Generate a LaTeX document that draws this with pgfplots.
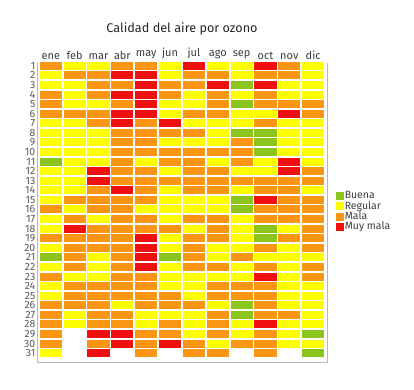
\documentclass[border=0pt]{standalone}
\usepackage{fontspec}
\setmainfont{Fira Sans}
\usepackage{pgfplots}
\usepackage{pgfplotstable}
\pgfplotsset{compat=1.18}
\definecolor{cbuena}{RGB}{140,196,30}
\definecolor{cregular}{RGB}{255,255,0}
\definecolor{cmala}{RGB}{250,150,20}
\definecolor{cmuymala}{RGB}{240,15,15}
\definecolor{ctxt}{RGB}{60,60,60}
\pgfdeclareplotmark{celda}{\pgfpathrectangle{\pgfpoint{-11.1bp}{-4.0bp}}{\pgfpoint{22.2bp}{8.0bp}}\pgfusepathqfill}
% 0 = sin dato, 1 = Buena, 2 = Regular, 3 = Mala, 4 = Muy mala
\pgfplotstableread{
d m0 m1 m2 m3 m4 m5 m6 m7 m8 m9 m10 m11
1 3 2 2 3 3 2 4 2 2 4 3 2
2 2 3 3 4 4 2 3 3 2 3 3 2
3 2 2 3 3 4 3 3 4 1 4 2 2
4 3 2 3 4 4 3 2 3 2 3 2 2
5 3 2 2 3 4 2 2 3 1 3 3 3
6 3 3 3 4 4 2 3 3 2 2 4 3
7 2 2 3 4 3 4 2 2 2 3 2 2
8 2 2 2 3 3 3 3 2 1 1 2 2
9 2 2 2 3 3 2 2 2 3 1 2 2
10 2 2 2 3 3 3 3 3 3 1 2 2
11 1 2 2 3 2 3 3 2 3 2 4 2
12 2 2 4 3 3 2 3 3 2 2 4 3
13 2 2 4 3 3 3 3 3 3 3 3 3
14 2 2 3 4 3 2 3 3 2 3 3 2
15 2 3 3 3 3 2 2 2 1 4 3 3
16 3 2 3 3 2 2 2 2 1 3 3 3
17 2 3 2 3 3 2 3 3 2 3 3 3
18 2 4 3 3 3 3 2 3 2 1 2 3
19 3 3 3 3 4 2 3 3 2 1 3 3
20 2 3 3 3 4 2 3 2 2 3 2 3
21 1 3 2 3 4 1 3 2 3 2 2 2
22 2 3 2 3 4 2 3 3 2 3 2 3
23 3 2 2 3 3 2 2 2 2 4 2 3
24 2 3 3 3 3 2 2 3 3 3 2 2
25 2 3 3 3 3 3 2 3 3 3 2 2
26 3 3 3 2 3 3 3 2 1 3 2 2
27 3 2 3 3 2 2 2 3 1 3 3 2
28 3 2 3 3 2 3 2 3 2 4 2 2
29 3 0 4 4 3 3 2 3 2 3 2 1
30 3 0 3 4 3 4 3 2 3 3 2 2
31 2 0 4 0 3 0 3 3 0 3 0 1
}\datos
\begin{document}
\begin{tikzpicture}[x=1bp,y=1bp]
\useasboundingbox (0,0) rectangle (414,390);
\node[font=\fontsize{12.7}{15}\selectfont, text=black!85] at (182,361) {Calidad del aire por ozono};
\begin{axis}[
  at={(37bp,28bp)}, anchor=south west,
  scale only axis, width=290bp, height=301bp,
  xmin=-0.58, xmax=11.58, ymin=0.5, ymax=31.92, y dir=reverse,
  axis line style={draw=none},
  xtick={0,...,11},
  xticklabels={ene,feb,mar,abr,may,jun,jul,ago,sep,oct,nov,dic},
  xticklabel pos=upper,
  ytick={1,...,31},
  major tick length=0pt,
  xtick style={draw=none}, ytick style={draw=none},
  /pgf/number format/assume math mode=true,
  xticklabel style={font=\fontsize{11}{13}\selectfont, text=ctxt, inner sep=1.5bp},
  yticklabel style={font=\fontsize{10.5}{12}\selectfont, text=ctxt!85, inner sep=1.5bp},
  legend style={at={(axis description cs:1.03,0.5)}, anchor=west, draw=none, fill=none,
    font=\fontsize{10.5}{12}\selectfont, text=ctxt, row sep=-2bp, inner sep=0pt,
    nodes={inner sep=1.5bp}},
  legend cell align=left,
  clip=false,
]
\pgfplotsinvokeforeach{0,...,11}{
  \addplot[forget plot, scatter, only marks, mark=celda, point meta=explicit symbolic,
    scatter/classes={
      0={fill=white, draw=none},
      1={fill=cbuena, draw=none},
      2={fill=cregular, draw=none},
      3={fill=cmala, draw=none},
      4={fill=cmuymala, draw=none}}]
    table[x expr=#1, y=d, meta=m#1] {\datos};
}
\addlegendimage{legend image code/.code={\fill[cbuena] (0bp,-3.5bp) rectangle (7bp,3.5bp);}}
\addlegendentry{Buena}
\addlegendimage{legend image code/.code={\fill[cregular] (0bp,-3.5bp) rectangle (7bp,3.5bp);}}
\addlegendentry{Regular}
\addlegendimage{legend image code/.code={\fill[cmala] (0bp,-3.5bp) rectangle (7bp,3.5bp);}}
\addlegendentry{Mala}
\addlegendimage{legend image code/.code={\fill[cmuymala] (0bp,-3.5bp) rectangle (7bp,3.5bp);}}
\addlegendentry{Muy mala}
\draw[gray!55, line width=0.8bp] (axis description cs:0,0.995) -- (axis description cs:0,0) -- (axis description cs:1,0) -- (axis description cs:1,0.995);
\end{axis}
\end{tikzpicture}
\end{document}
